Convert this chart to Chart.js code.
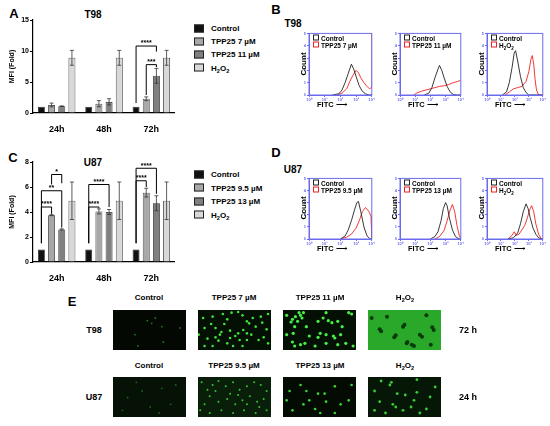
<!DOCTYPE html>
<html>
<head>
<meta charset="utf-8">
<script src="https://cdn.jsdelivr.net/npm/chart.js@4.4.1/dist/chart.umd.min.js"></script>
<style>
body { margin: 0; background: #fff; font-family: "Liberation Sans", Arial, sans-serif; font-weight: bold; color: #000; }
#fig { position: relative; width: 550px; height: 426px; overflow: hidden; }
.t { position: absolute; white-space: nowrap; transform: translate(-50%, -50%); }
.l { position: absolute; white-space: nowrap; }
.c { position: absolute; }
canvas { display: block; }
sub { font-size: 70%; vertical-align: -2px; line-height: 0; }
</style>
</head>
<body>
<div id="fig"></div>
<script>
// ---- panel A / C bar data ----
const timeLabels = ['24h', '48h', '72h'];
const barColors = ['#111111', '#a8a8a8', '#808080', '#d8d8d8'];

const t98Names = ['Control', 'TPP25 7 µM', 'TPP25 11 µM', 'H<sub>2</sub>O<sub>2</sub>'];
const t98Control = [1, 1, 1];
const t98Low = [1.3, 1.5, 2.3];
const t98LowErr = [0.3, 0.5, 0.3];
const t98High = [1.1, 1.8, 6.0];
const t98HighErr = [0.05, 0.5, 1.2];
const t98H2o2 = [8.9, 8.9, 8.9];
const t98H2o2Err = [1.2, 1.2, 1.2];
// [group, from bar, to bar, level, left leg end, right leg end, label]
const t98Brackets = [
    [2, 0, 2, 10.8, 1.6, 9.9, '****'],
    [2, 1, 2, 7.8, 2.9, 7.4, '***']
];

const u87Names = ['Control', 'TPP25 9.5 µM', 'TPP25 13 µM', 'H<sub>2</sub>O<sub>2</sub>'];
const u87Control = [1, 1, 1];
const u87Low = [3.75, 4.05, 5.55];
const u87LowErr = [0.04, 0.2, 0.35];
const u87High = [2.6, 4.0, 4.7];
const u87HighErr = [0.05, 0.2, 0.6];
const u87H2o2 = [4.9, 4.9, 4.9];
const u87H2o2Err = [1.5, 1.5, 1.5];
const u87Brackets = [
    [0, 0, 1, 4.4, 1.5, 3.85, '****'],
    [0, 0, 2, 5.7, 1.5, 2.75, '**'],
    [0, 1, 2, 7.0, 6.2, 6.3, '*'],
    [1, 0, 1, 4.4, 1.5, 4.3, '****'],
    [1, 0, 2, 6.2, 1.5, 4.4, '****'],
    [2, 0, 1, 6.5, 1.5, 6.0, '****'],
    [2, 0, 2, 7.5, 1.5, 5.45, '****']
];

// ---- panel B / D flow histograms, [log FITC, % of full scale] ----
const fitcTicks = ['10⁰', '10¹', '10²', '10³', '10⁴'];
const b1Control = [[1.5,0],[1.9,2],[2.1,8],[2.3,20],[2.5,35],[2.7,50],[2.85,42],[3.0,30],[3.2,15],[3.4,6],[3.6,2],[3.8,0],[4,0]];
const b1Treated = [[1.8,0],[2.1,3],[2.4,10],[2.6,22],[2.8,32],[3.0,40],[3.15,36],[3.3,28],[3.5,20],[3.7,14],[3.85,10],[3.97,12],[4.0,100]];
const b2Control = [[1.6,0],[1.9,3],[2.1,12],[2.3,28],[2.5,42],[2.6,48],[2.75,40],[2.9,28],[3.1,14],[3.3,5],[3.5,1],[3.7,0],[4,0]];
const b2Treated = [[0.9,0],[1.1,3],[1.4,6],[1.7,8],[2.0,10],[2.3,12],[2.6,14],[2.9,15],[3.2,17],[3.5,20],[3.8,22],[4.0,24]];
const b3Control = [[1.1,0],[1.4,5],[1.6,20],[1.8,45],[1.95,68],[2.05,72],[2.2,55],[2.4,30],[2.6,12],[2.8,4],[3.0,0],[4,0]];
const b3Treated = [[1.3,0],[1.6,5],[1.9,10],[2.2,12],[2.5,14],[2.8,22],[3.0,38],[3.15,58],[3.25,64],[3.35,50],[3.45,25],[3.55,8],[3.7,0],[4,0]];
const d1Control = [[2.0,0],[2.3,5],[2.5,15],[2.7,30],[2.9,48],[3.05,60],[3.15,62],[3.3,45],[3.5,20],[3.7,5],[3.9,0],[4,0]];
const d1Treated = [[2.0,0],[2.4,3],[2.7,8],[3.0,18],[3.2,30],[3.4,45],[3.6,52],[3.8,46],[3.95,38],[4.0,0]];
const d2Control = [[2.0,0],[2.3,4],[2.5,12],[2.7,30],[2.85,50],[3.0,60],[3.1,55],[3.25,35],[3.45,15],[3.65,4],[3.9,0],[4,0]];
const d2Treated = [[2.3,0],[2.6,4],[2.9,14],[3.1,30],[3.3,48],[3.45,57],[3.6,45],[3.75,22],[3.9,6],[4.0,0]];
const d3Control = [[1.5,0],[1.9,2],[2.2,10],[2.4,25],[2.6,45],[2.8,58],[2.95,50],[3.1,35],[3.3,18],[3.5,8],[3.7,2],[3.9,0],[4,0]];
const d3Treated = [[1.5,0],[1.8,6],[1.95,12],[2.1,6],[2.3,8],[2.5,15],[2.7,22],[2.9,35],[3.05,48],[3.2,55],[3.35,45],[3.5,25],[3.7,8],[3.9,0],[4,0]];

// ---- panel E micrograph spots, [x 0-100, y 0-60] ----
const e1Spots = [[47,44],[67,35],[53,40],[30,23],[92,33],[69,12],[34,6],[58,48]];
const e2Spots = [[7,48],[20,50],[18,39],[34,54],[40,46],[46,56],[55,57],[61,52],[67,43],[75,48],[86,50],[88,41],[79,35],[73,23],[67,25],[55,25],[51,21],[32,27],[30,23],[24,19],[40,10],[48,6],[61,6],[20,6],[9,6],[9,33],[36,39],[90,19],[96,10],[83,15],[67,15],[57,15],[44,29],[24,33],[13,17],[96,54],[1,23],[94,31],[70,40],[62,30],[28,14],[44,18]];
const e3Spots = [[5,52],[13,46],[20,43],[26,48],[22,56],[28,56],[16,35],[14,25],[32,35],[48,43],[55,48],[59,56],[67,41],[75,43],[81,35],[90,56],[94,54],[51,25],[59,23],[69,21],[48,19],[36,21],[13,12],[16,6],[24,8],[44,6],[59,10],[75,8],[86,10],[96,6],[79,23],[5,23],[17,50],[24,52],[11,42],[62,44],[71,18],[30,10]];
const e4Gaps = [[16,31],[48,35],[53,10],[63,6],[36,19],[5,48],[71,23],[86,8],[90,30],[50,38],[54,12],[60,8],[18,28],[38,22],[74,20],[88,34],[26,50],[80,52]];
const e5Spots = [[20,29],[40,39],[67,43],[79,19],[13,10],[51,15],[86,48],[32,52],[63,6]];
const e6Spots = [[5,52],[13,41],[20,48],[28,54],[38,46],[44,35],[48,52],[57,41],[67,46],[77,52],[86,48],[94,39],[90,27],[81,23],[71,31],[61,25],[51,19],[40,27],[28,23],[16,31],[9,19],[3,10],[16,6],[32,10],[48,6],[63,10],[79,6],[94,10],[84,15],[55,33],[24,39],[67,19]];
const e7Spots = [[9,39],[24,48],[36,25],[48,35],[57,35],[71,46],[90,25],[79,19],[59,23],[44,12],[28,19],[13,10],[71,6],[94,48],[51,6],[5,25],[32,39]];
const e8Spots = [[18,54],[30,48],[32,52],[9,39],[40,35],[51,33],[63,25],[67,56],[34,19],[38,15],[16,23],[9,10],[48,10],[59,15],[71,6],[24,6],[67,37],[85,30],[92,45],[80,12]];

const fig = document.getElementById('fig');
const FONT = '"Liberation Sans", Arial, sans-serif';
Chart.defaults.font.family = FONT;
Chart.defaults.font.weight = 'bold';
Chart.defaults.color = '#000';

function text(html, x, y, size, cls, extra) {
    const d = document.createElement('div');
    d.className = cls || 't';
    d.style.left = x + 'px';
    d.style.top = y + 'px';
    d.style.fontSize = size + 'px';
    if (extra) Object.assign(d.style, extra);
    d.innerHTML = html;
    fig.appendChild(d);
    return d;
}

function canvasAt(left, top, w, h) {
    const box = document.createElement('div');
    box.className = 'c';
    Object.assign(box.style, { left: left + 'px', top: top + 'px', width: w + 'px', height: h + 'px' });
    const cv = document.createElement('canvas');
    box.appendChild(cv);
    fig.appendChild(box);
    return cv;
}

const errorBars = {
    id: 'errorBars',
    afterDatasetsDraw(chart) {
        const { ctx } = chart;
        const y = chart.scales.y;
        chart.data.datasets.forEach((ds, i) => {
            chart.getDatasetMeta(i).data.forEach((bar, j) => {
                const e = ds.err ? ds.err[j] : 0;
                if (!e) return;
                const top = y.getPixelForValue(ds.data[j] + e);
                const bot = y.getPixelForValue(ds.data[j] - e);
                ctx.save();
                ctx.strokeStyle = '#333';
                ctx.lineWidth = 0.8;
                ctx.beginPath();
                ctx.moveTo(bar.x, top); ctx.lineTo(bar.x, bot);
                ctx.moveTo(bar.x - 2, top); ctx.lineTo(bar.x + 2, top);
                ctx.moveTo(bar.x - 2, bot); ctx.lineTo(bar.x + 2, bot);
                ctx.stroke();
                ctx.restore();
            });
        });
    }
};

function bracketPlugin(list) {
    return {
        id: 'brackets',
        afterDatasetsDraw(chart) {
            const { ctx } = chart;
            const y = chart.scales.y;
            ctx.save();
            ctx.strokeStyle = '#000';
            ctx.lineWidth = 1;
            ctx.fillStyle = '#000';
            ctx.font = 'bold 7px ' + FONT;
            ctx.textAlign = 'center';
            ctx.textBaseline = 'bottom';
            list.forEach(([g, a, b, lvl, la, lb, label]) => {
                const xa = chart.getDatasetMeta(a).data[g].x;
                const xb = chart.getDatasetMeta(b).data[g].x;
                const py = y.getPixelForValue(lvl);
                ctx.beginPath();
                ctx.moveTo(xa, y.getPixelForValue(la));
                ctx.lineTo(xa, py);
                ctx.lineTo(xb, py);
                ctx.lineTo(xb, y.getPixelForValue(lb));
                ctx.stroke();
                ctx.fillText(label, (xa + xb) / 2, py + 1);
            });
            ctx.restore();
        }
    };
}

function barPanel(cv, names, series, errs, yMax, yStep, brackets) {
    return new Chart(cv, {
        type: 'bar',
        data: {
            labels: timeLabels,
            datasets: series.map((s, i) => ({
                label: names[i],
                data: s,
                err: errs[i],
                backgroundColor: barColors[i],
                borderColor: '#222',
                borderWidth: 0.8,
                barPercentage: 0.68,
                categoryPercentage: 0.86
            }))
        },
        options: {
            responsive: true,
            maintainAspectRatio: false,
            animation: false,
            layout: { padding: { top: 10, right: 0, left: 0, bottom: 0 } },
            plugins: { legend: { display: false }, tooltip: { enabled: false } },
            scales: {
                x: {
                    grid: { display: false },
                    border: { color: '#000', width: 1.2 },
                    ticks: { font: { size: 9, weight: 'bold' }, padding: 3 },
                    afterFit: s => { s.height = 20; }
                },
                y: {
                    min: 0,
                    max: yMax,
                    ticks: { stepSize: yStep, font: { size: 7, weight: 'bold' }, padding: 1 },
                    grid: { drawOnChartArea: false, drawTicks: true, tickLength: 3, color: '#000' },
                    border: { color: '#000', width: 1.2 },
                    title: { display: true, text: 'MFI (Fold)', font: { size: 7, weight: 'bold' }, padding: 0 },
                    afterFit: s => { s.width = 25; }
                }
            }
        },
        plugins: [errorBars, bracketPlugin(brackets)]
    });
}

function legend(names, x, y0, dy) {
    names.forEach((n, i) => {
        const row = text('', x, y0 + i * dy, 8, 'l', { transform: 'translateY(-50%)', display: 'flex', alignItems: 'center' });
        row.innerHTML = '<span style="display:inline-block;width:8px;height:6px;border:0.8px solid #222;background:' +
            barColors[i] + ';margin-right:7px"></span><span>' + n + '</span>';
    });
}

// ---- A ----
text('A', 14, 13, 13);
text('T98', 93, 14, 10);
barPanel(canvasAt(8, 10, 167, 123), t98Names,
    [t98Control, t98Low, t98High, t98H2o2],
    [null, t98LowErr, t98HighErr, t98H2o2Err], 15, 5, t98Brackets);
legend(t98Names, 194, 28, 13.2);

// ---- C ----
text('C', 13, 157, 13);
text('U87', 93, 162, 10);
barPanel(canvasAt(8, 152, 167, 130), u87Names,
    [u87Control, u87Low, u87High, u87H2o2],
    [null, u87LowErr, u87HighErr, u87H2o2Err], 8, 2, u87Brackets);
legend(u87Names, 194, 174, 13.5);

// ---- B / D histograms ----
const blue = '#6b6bef';
const boxFrame = {
    id: 'boxFrame',
    afterDraw(chart) {
        const a = chart.chartArea;
        const ctx = chart.ctx;
        ctx.save();
        ctx.strokeStyle = blue;
        ctx.lineWidth = 1;
        ctx.strokeRect(a.left, a.top, a.right - a.left, a.bottom - a.top);
        ctx.restore();
    }
};
const toXY = arr => arr.map(([x, y]) => ({ x, y }));

function histo(left, top, w, h, control, treated, treatName) {
    const cv = canvasAt(left - 10, top - 2, w + 12, h + 9);
    new Chart(cv, {
        type: 'line',
        data: {
            datasets: [
                { data: toXY(control), borderColor: '#222', borderWidth: 0.9, pointRadius: 0, tension: 0 },
                { data: toXY(treated), borderColor: '#ee2222', borderWidth: 0.9, pointRadius: 0, tension: 0 }
            ]
        },
        options: {
            responsive: true,
            maintainAspectRatio: false,
            animation: false,
            layout: { padding: { top: 2, right: 2, left: 0, bottom: 0 } },
            plugins: { legend: { display: false }, tooltip: { enabled: false } },
            scales: {
                x: {
                    type: 'linear', min: 0, max: 4,
                    ticks: { stepSize: 1, color: blue, font: { size: 4 }, padding: 0, callback: v => fitcTicks[v] },
                    grid: { drawOnChartArea: false, tickLength: 2, color: blue },
                    border: { color: blue },
                    afterFit: s => { s.height = 7; }
                },
                y: {
                    min: 0, max: 100,
                    ticks: { stepSize: 20, color: blue, font: { size: 4 }, padding: 1, callback: v => v / 20 },
                    grid: { drawOnChartArea: false, tickLength: 2, color: blue },
                    border: { color: blue },
                    afterFit: s => { s.width = 10; }
                }
            }
        },
        plugins: [boxFrame]
    });
    const sq = c => '<span style="display:inline-block;width:4px;height:4px;border:0.9px solid ' + c + ';margin-right:2px;vertical-align:0"></span>';
    text(sq('#222') + 'Control', left + 4, top + 6, 6.5, 'l', { transform: 'translateY(-50%)' });
    text(sq('#ee2222') + treatName, left + 4, top + 13, 6.5, 'l', { transform: 'translateY(-50%)', color: '#000' });
    text('Count', left - 6, top + h / 2, 8, 't', { transform: 'translate(-50%,-50%) rotate(-90deg)' });
    text('FITC <span style="font-weight:normal">⟶</span>', left + 8, top + h + 9, 7.5, 'l', { transform: 'translateY(-50%)' });
}

text('B', 276, 9, 13);
text('T98', 293, 23, 10);
histo(309, 32, 64, 63, b1Control, b1Treated, 'TPP25 7 µM');
histo(400, 32, 62, 63, b2Control, b2Treated, 'TPP25 11 µM');
histo(487, 32, 57, 63, b3Control, b3Treated, 'H<sub>2</sub>O<sub>2</sub>');

text('D', 276, 152, 13);
text('U87', 293, 169, 10);
histo(309, 177, 64, 62, d1Control, d1Treated, 'TPP25 9.5 µM');
histo(400, 177, 62, 62, d2Control, d2Treated, 'TPP25 13 µM');
histo(487, 177, 57, 62, d3Control, d3Treated, 'H<sub>2</sub>O<sub>2</sub>');

// ---- E micrographs ----
function micro(left, top, spots, bg, color, radius) {
    const cv = canvasAt(left, top, 81, 48);
    new Chart(cv, {
        type: 'scatter',
        data: { datasets: [{ data: toXY(spots), pointRadius: radius, pointBackgroundColor: color, pointBorderWidth: 0 }] },
        options: {
            responsive: true,
            maintainAspectRatio: false,
            animation: false,
            layout: { padding: 0 },
            plugins: { legend: { display: false }, tooltip: { enabled: false } },
            scales: {
                x: { display: false, min: 0, max: 100 },
                y: { display: false, min: 0, max: 60 }
            }
        },
        plugins: [{
            id: 'bg',
            beforeDraw(chart) {
                const a = chart.chartArea;
                chart.ctx.save();
                chart.ctx.fillStyle = bg;
                chart.ctx.fillRect(a.left, a.top, a.right - a.left, a.bottom - a.top);
                chart.ctx.restore();
            }
        }]
    });
}

text('E', 72, 301, 13);
const cols = [149, 234, 320, 405];
const colLeft = [109, 194, 279, 364];
['Control', 'TPP25 7 µM', 'TPP25 11 µM', 'H<sub>2</sub>O<sub>2</sub>'].forEach((n, i) => text(n, cols[i], 297, 8));
['Control', 'TPP25 9.5 µM', 'TPP25 13 µM', 'H<sub>2</sub>O<sub>2</sub>'].forEach((n, i) => text(n, cols[i], 365, 8));
text('T98', 94, 330, 9);
text('U87', 94, 397, 9);
text('72 h', 468, 330, 9);
text('24 h', 468, 397, 9);

micro(colLeft[0], 306, e1Spots, '#030803', '#1f7a1f', 0.9);
micro(colLeft[1], 306, e2Spots, '#041004', '#3fe03f', 1.3);
micro(colLeft[2], 306, e3Spots, '#041004', '#46ee46', 1.6);
micro(colLeft[3], 306, e4Gaps, '#2aa82a', '#0a3a0a', 2);
micro(colLeft[0], 373, e5Spots, '#061206', '#1d641d', 0.9);
micro(colLeft[1], 373, e6Spots, '#0a1f0a', '#36c436', 1);
micro(colLeft[2], 373, e7Spots, '#030b03', '#3ad63a', 1.3);
micro(colLeft[3], 373, e8Spots, '#071707', '#38cc38', 1.4);
</script>
</body>
</html>
